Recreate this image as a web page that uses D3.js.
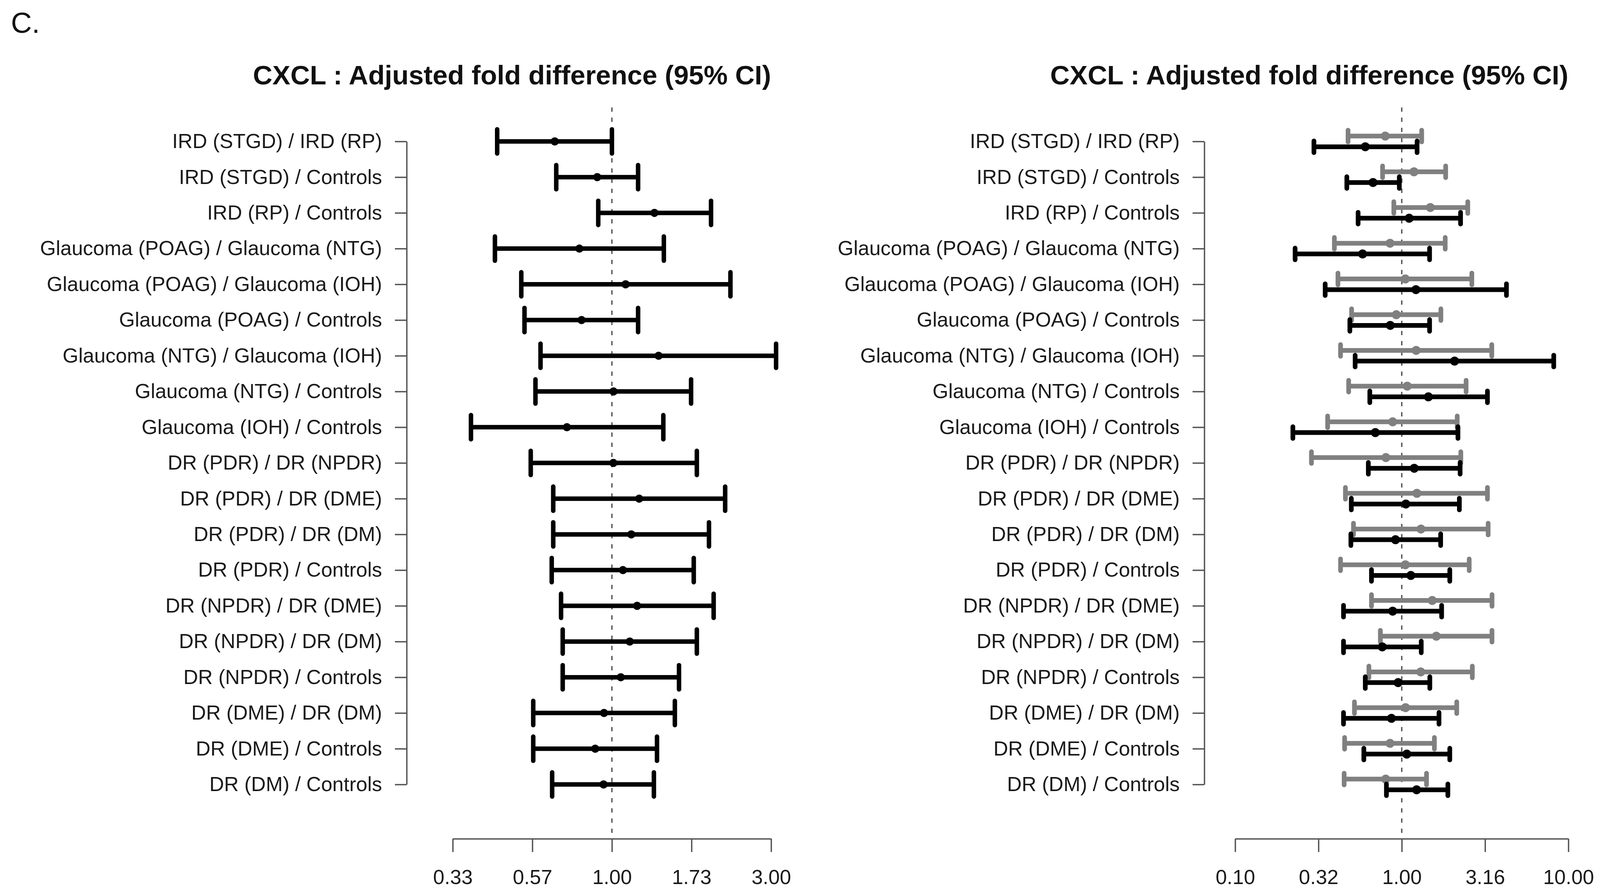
<!DOCTYPE html>
<html>
<head>
<meta charset="utf-8">
<script src="https://cdn.jsdelivr.net/npm/d3@7"></script>
<style>
    html, body { margin: 0; padding: 0; background: #fff; overflow: hidden; }
    svg { display: block; }
    text { font-family: "Liberation Sans", Arial, sans-serif; }
</style>
</head>
<body>
<div id="forest"></div>
<script>
// Comparisons (rows, top to bottom)
const comparisons = [
    "IRD (STGD) / IRD (RP)", "IRD (STGD) / Controls", "IRD (RP) / Controls",
    "Glaucoma (POAG) / Glaucoma (NTG)", "Glaucoma (POAG) / Glaucoma (IOH)", "Glaucoma (POAG) / Controls",
    "Glaucoma (NTG) / Glaucoma (IOH)", "Glaucoma (NTG) / Controls", "Glaucoma (IOH) / Controls",
    "DR (PDR) / DR (NPDR)", "DR (PDR) / DR (DME)", "DR (PDR) / DR (DM)", "DR (PDR) / Controls",
    "DR (NPDR) / DR (DME)", "DR (NPDR) / DR (DM)", "DR (NPDR) / Controls",
    "DR (DME) / DR (DM)", "DR (DME) / Controls", "DR (DM) / Controls"
];

// Left panel: fold difference with 95% CI
const leftEst = [0.674, 0.904, 1.341, 0.799, 1.099, 0.811, 1.380, 1.011, 0.733, 1.010,
    1.207, 1.143, 1.079, 1.190, 1.131, 1.063, 0.947, 0.891, 0.944];
const leftLo = [0.453, 0.681, 0.910, 0.446, 0.535, 0.547, 0.611, 0.590, 0.378, 0.571,
    0.667, 0.667, 0.660, 0.704, 0.712, 0.712, 0.581, 0.581, 0.662];
const leftHi = [1.000, 1.198, 1.982, 1.431, 2.266, 1.198, 3.105, 1.727, 1.426, 1.797,
    2.185, 1.954, 1.759, 2.018, 1.797, 1.589, 1.544, 1.365, 1.336];

// Right panel: grey series (upper bar of each row)
const greyEst = [0.796, 1.184, 1.484, 0.850, 1.051, 0.927, 1.220, 1.079, 0.882, 0.803,
    1.233, 1.304, 1.051, 1.524, 1.612, 1.300, 1.054, 0.850, 0.801];
const greyLo = [0.476, 0.767, 0.896, 0.394, 0.414, 0.500, 0.429, 0.480, 0.359, 0.287,
    0.459, 0.513, 0.429, 0.658, 0.744, 0.635, 0.520, 0.454, 0.451];
const greyHi = [1.317, 1.835, 2.490, 1.823, 2.634, 1.717, 3.470, 2.433, 2.152, 2.262,
    3.268, 3.300, 2.540, 3.482, 3.480, 2.652, 2.138, 1.570, 1.408];

// Right panel: black series (lower bar of each row)
const blackEst = [0.604, 0.672, 1.108, 0.582, 1.216, 0.853, 2.075, 1.445, 0.694, 1.188,
    1.058, 0.917, 1.134, 0.882, 0.764, 0.951, 0.867, 1.072, 1.228];
const blackLo = [0.297, 0.468, 0.547, 0.229, 0.347, 0.488, 0.525, 0.643, 0.222, 0.630,
    0.498, 0.495, 0.658, 0.447, 0.447, 0.604, 0.447, 0.592, 0.809];
const blackHi = [1.236, 0.967, 2.254, 1.469, 4.250, 1.469, 8.170, 3.268, 2.174, 2.240,
    2.217, 1.712, 1.942, 1.735, 1.309, 1.474, 1.673, 1.942, 1.891];

// Axis ticks
const leftTicks = [0.3333, 0.5774, 1, 1.7321, 3];
const leftTickLabels = ["0.33", "0.57", "1.00", "1.73", "3.00"];
const rightTicks = [0.1, 0.3162, 1, 3.1623, 10];
const rightTickLabels = ["0.10", "0.32", "1.00", "3.16", "10.00"];

const titleText = "CXCL : Adjusted fold difference (95% CI)";

const width = 4113;
const height = 2291;

const svg = d3.select("#forest")
    .append("svg")
        .attr("width", width)
        .attr("height", height)
        .attr("viewBox", `0 0 ${width} ${height}`);

svg.append("text")
    .attr("x", 28)
    .attr("y", 84)
    .style("font-size", "74px")
    .attr("fill", "#111")
    .text("C.");

const rowTop = 362;
const rowBottom = 2008;
const axisY = 2147;

function panel(opts) {
    const x = d3.scaleLog()
        .domain(opts.domain)
        .range(opts.xRange);

    const y = d3.scalePoint()
        .domain(comparisons)
        .range([rowTop, rowBottom]);

    const g = svg.append("g");

    // Title
    g.append("text")
        .attr("x", opts.xRange[1])
        .attr("y", 216)
        .attr("text-anchor", "end")
        .style("font-size", "69px")
        .style("font-weight", "bold")
        .attr("fill", "#111")
        .text(titleText);

    // Reference line at 1
    g.append("line")
        .attr("x1", x(1)).attr("x2", x(1))
        .attr("y1", 275).attr("y2", axisY)
        .attr("stroke", "#555")
        .attr("stroke-width", 3.5)
        .attr("stroke-dasharray", "11,15");

    // Row labels
    const yAxis = g.append("g")
        .attr("transform", `translate(${opts.yAxisX}, 0)`)
        .call(d3.axisLeft(y).tickSize(30).tickSizeOuter(0).tickPadding(33));
    yAxis.select(".domain").attr("stroke", "#555").attr("stroke-width", 3.5);
    yAxis.selectAll(".tick line").attr("stroke", "#555").attr("stroke-width", 3.5);
    yAxis.selectAll(".tick text")
        .style("font-size", "52px")
        .attr("fill", "#1a1a1a");

    // Bottom axis
    const xAxis = g.append("g")
        .attr("transform", `translate(0, ${axisY})`)
        .call(d3.axisBottom(x)
            .tickValues(opts.ticks)
            .tickFormat((d, i) => opts.tickLabels[i])
            .tickSize(34)
            .tickSizeOuter(0)
            .tickPadding(45));
    xAxis.select(".domain").attr("stroke", "#555").attr("stroke-width", 3.5);
    xAxis.selectAll(".tick line").attr("stroke", "#555").attr("stroke-width", 3.5);
    xAxis.selectAll(".tick text")
        .style("font-size", "52px")
        .attr("fill", "#1a1a1a");

    // Error bars
    opts.series.forEach(s => {
        const rows = comparisons.map((c, i) => ({c, est: s.est[i], lo: s.lo[i], hi: s.hi[i]}));
        const sg = g.append("g")
            .attr("stroke", s.color)
            .attr("fill", s.color);

        sg.selectAll(".bar")
            .data(rows)
            .join("line")
                .attr("x1", d => x(d.lo))
                .attr("x2", d => x(d.hi))
                .attr("y1", d => y(d.c) + s.offset)
                .attr("y2", d => y(d.c) + s.offset)
                .attr("stroke-width", opts.lineWidth);

        ["lo", "hi"].forEach(k => {
            sg.selectAll(".cap-" + k)
                .data(rows)
                .join("line")
                    .attr("x1", d => x(d[k]))
                    .attr("x2", d => x(d[k]))
                    .attr("y1", d => y(d.c) + s.offset - opts.capHalf)
                    .attr("y2", d => y(d.c) + s.offset + opts.capHalf)
                    .attr("stroke-width", opts.lineWidth)
                    .attr("stroke-linecap", "round");
        });

        sg.selectAll("circle")
            .data(rows)
            .join("circle")
                .attr("cx", d => x(d.est))
                .attr("cy", d => y(d.c) + s.offset)
                .attr("r", opts.dotR)
                .attr("stroke", "none");
    });
}

panel({
    domain: [1 / 3, 3],
    xRange: [1159, 1974],
    yAxisX: 1041,
    ticks: leftTicks,
    tickLabels: leftTickLabels,
    lineWidth: 11.5,
    capHalf: 31,
    dotR: 10.5,
    series: [{est: leftEst, lo: leftLo, hi: leftHi, color: "#000", offset: 0}]
});

panel({
    domain: [0.1, 10],
    xRange: [3162, 4015],
    yAxisX: 3083,
    ticks: rightTicks,
    tickLabels: rightTickLabels,
    lineWidth: 12,
    capHalf: 15,
    dotR: 11.5,
    series: [
        {est: greyEst, lo: greyLo, hi: greyHi, color: "#808080", offset: -13.7},
        {est: blackEst, lo: blackLo, hi: blackHi, color: "#000", offset: 13.7}
    ]
});
</script>
</body>
</html>
